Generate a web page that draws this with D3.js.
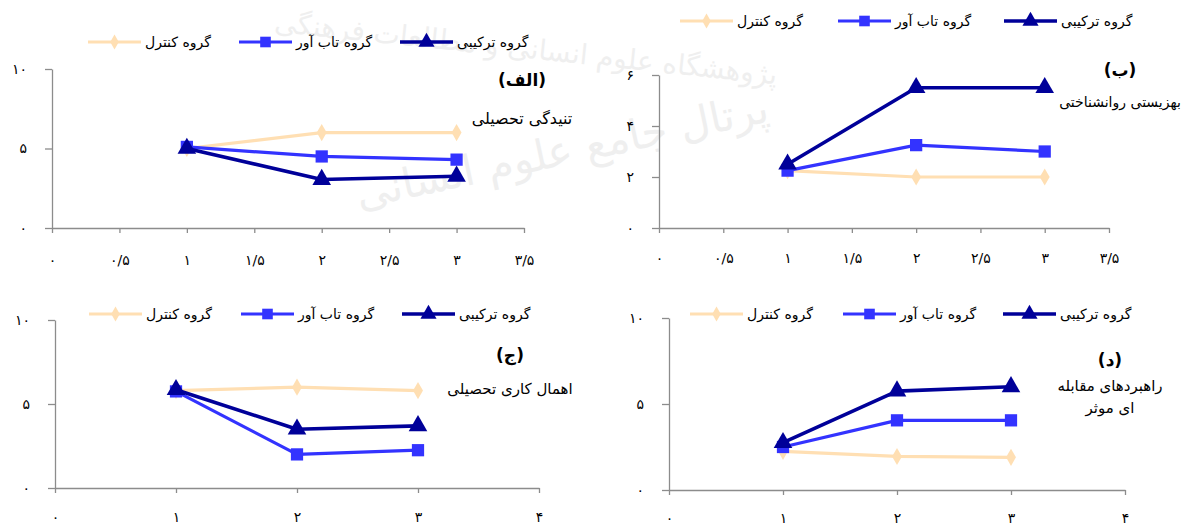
<!DOCTYPE html>
<html>
<head>
<meta charset="utf-8">
<script src="https://cdn.jsdelivr.net/npm/d3@7"></script>
<style>
  html, body { margin: 0; padding: 0; background: #fff; }
  svg { display: block; font-family: "DejaVu Sans", sans-serif; }
  .axis path, .axis line { stroke: #8c8c8c; stroke-width: 1.3; }
  .axis text { fill: #000; font-size: 14px; font-family: "DejaVu Sans", sans-serif; }
  .wm { fill: #efefef; font-family: "DejaVu Sans", sans-serif; }
</style>
</head>
<body>
<svg id="chart" width="1184" height="527"></svg>
<script>
// --- data ---
const xCats = [1, 2, 3];
const seriesNames = ["گروه کنترل", "گروه تاب آور", "گروه ترکیبی"];

// (الف) academic stress
const stressControl = [5.0, 6.0, 6.0];
const stressResil = [5.1, 4.5, 4.3];
const stressCombo = [5.0, 3.05, 3.25];
// (ب) psychological well-being
const wellControl = [2.25, 2.0, 2.0];
const wellResil = [2.25, 3.25, 3.0];
const wellCombo = [2.5, 5.5, 5.5];
// (ج) academic procrastination
const procControl = [5.8, 6.0, 5.8];
const procResil = [5.75, 2.0, 2.25];
const procCombo = [5.85, 3.5, 3.7];
// (د) effective coping strategies
const copeControl = [2.25, 1.95, 1.9];
const copeResil = [2.5, 4.05, 4.05];
const copeCombo = [2.75, 5.75, 6.0];

const panelTitles = ["(الف)", "(ب)", "(ج)", "(د)"];
const panelSubtitles = [
  ["تنیدگی تحصیلی"],
  ["بهزیستی روانشناختی"],
  ["اهمال کاری تحصیلی"],
  ["راهبردهای مقابله", "ای موثر"],
];

const xTicksHalf = [0, 0.5, 1, 1.5, 2, 2.5, 3, 3.5];
const xTicksWhole = [0, 1, 2, 3, 4];
const yTicks10 = [0, 5, 10];
const yTicks6 = [0, 2, 4, 6];

// --- look ---
const COLORS = ["#ffdfb3", "#3333ff", "#000099"];
const SHAPES = [d3.symbolDiamond, d3.symbolSquare, d3.symbolTriangle];
const SIZES = [85, 150, 150];
const WIDTHS = [3.2, 3.2, 3.6];

const FA = "۰۱۲۳۴۵۶۷۸۹";
const fa = (d) => String(d).replace(/\d/g, (c) => FA[+c]).replace(".", "/");

// panel frames (pixel boxes) and where the pieces sit
const panels = [
  {
    series: [stressControl, stressResil, stressCombo],
    x0: 52, x1: 524, xMax: 3.5, xTicks: xTicksHalf, xPad: 22,
    yTop: 69, yBot: 228, yMax: 10, yTicks: yTicks10,
    legY: 42, legX: [88, 239, 400],
    titleX: 522, titleY: 80, subY: [118], subSize: 16,
  },
  {
    series: [wellControl, wellResil, wellCombo],
    x0: 659, x1: 1109, xMax: 3.5, xTicks: xTicksHalf, xPad: 20,
    yTop: 75, yBot: 228, yMax: 6, yTicks: yTicks6,
    legY: 21, legX: [680, 838, 1004],
    titleX: 1120, titleY: 70, subY: [102], subSize: 14,
  },
  {
    series: [procControl, procResil, procCombo],
    x0: 55, x1: 539, xMax: 4, xTicks: xTicksWhole, xPad: 19,
    yTop: 320, yBot: 488, yMax: 10, yTicks: yTicks10,
    legY: 314, legX: [89, 241, 402],
    titleX: 510, titleY: 355, subY: [389], subSize: 15,
  },
  {
    series: [copeControl, copeResil, copeCombo],
    x0: 669, x1: 1125, xMax: 4, xTicks: xTicksWhole, xPad: 18,
    yTop: 318, yBot: 490, yMax: 10, yTicks: yTicks10,
    legY: 314, legX: [690, 843, 1003],
    titleX: 1110, titleY: 360, subY: [386, 408], subSize: 15,
  },
];

const svg = d3.select("#chart");

// faint watermark of the source page
const wm = svg.append("g");
wm.append("text").attr("class", "wm").attr("font-size", 28)
  .attr("transform", "translate(525,58) rotate(6)").attr("text-anchor", "middle")
  .text("پژوهشگاه علوم انسانی و مطالعات فرهنگی");
wm.append("text").attr("class", "wm").attr("font-size", 42)
  .attr("transform", "translate(565,165) rotate(-12)").attr("text-anchor", "middle")
  .text("پرتال جامع علوم انسانی");

panels.forEach((p, pi) => {
  const x = d3.scaleLinear().domain([0, p.xMax]).range([p.x0, p.x1]);
  const y = d3.scaleLinear().domain([0, p.yMax]).range([p.yBot, p.yTop]);
  const g = svg.append("g");

  g.append("g").attr("class", "axis")
    .attr("transform", `translate(0,${p.yBot})`)
    .call(d3.axisBottom(x).tickValues(p.xTicks).tickSize(5).tickSizeOuter(0).tickPadding(p.xPad).tickFormat(fa));
  g.append("g").attr("class", "axis")
    .attr("transform", `translate(${p.x0},0)`)
    .call(d3.axisLeft(y).tickValues(p.yTicks).tickSize(7).tickSizeOuter(0).tickPadding(18).tickFormat(fa));

  // series lines + markers
  const line = d3.line().x((d, i) => x(xCats[i])).y((d) => y(d));
  p.series.forEach((vals, si) => {
    g.append("path")
      .attr("d", line(vals))
      .attr("fill", "none")
      .attr("stroke", COLORS[si])
      .attr("stroke-width", WIDTHS[si])
      .attr("stroke-linejoin", "round");
    g.selectAll(null)
      .data(vals)
      .join("path")
      .attr("transform", (d, i) => `translate(${x(xCats[i])},${y(d)})`)
      .attr("d", d3.symbol().type(SHAPES[si]).size(SIZES[si]))
      .attr("fill", COLORS[si]);
  });

  // legend
  seriesNames.forEach((name, si) => {
    const lx = p.legX[si];
    g.append("line")
      .attr("x1", lx).attr("x2", lx + 53)
      .attr("y1", p.legY).attr("y2", p.legY)
      .attr("stroke", COLORS[si]).attr("stroke-width", WIDTHS[si]);
    g.append("path")
      .attr("transform", `translate(${lx + 26.5},${p.legY})`)
      .attr("d", d3.symbol().type(SHAPES[si]).size(SIZES[si] * 0.75))
      .attr("fill", COLORS[si]);
    g.append("text")
      .attr("x", lx + 57).attr("y", p.legY)
      .attr("dy", "0.35em")
      .attr("font-size", 14)
      .text(name);
  });

  // panel title and subtitle
  g.append("text")
    .attr("x", p.titleX).attr("y", p.titleY)
    .attr("dy", "0.35em").attr("text-anchor", "middle")
    .attr("font-size", 17).attr("font-weight", "bold")
    .text(panelTitles[pi]);
  panelSubtitles[pi].forEach((s, k) => {
    g.append("text")
      .attr("x", p.titleX).attr("y", p.subY[k])
      .attr("dy", "0.35em").attr("text-anchor", "middle")
      .attr("font-size", p.subSize)
      .text(s);
  });
});
</script>
</body>
</html>
